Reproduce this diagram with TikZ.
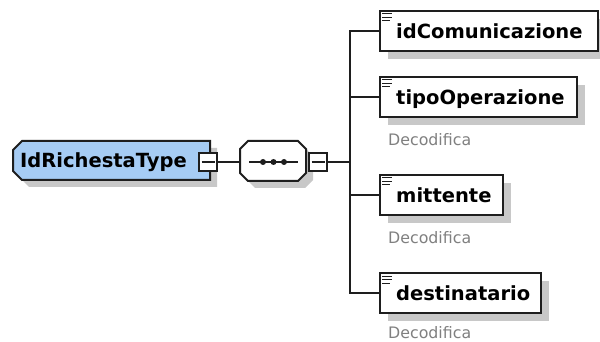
\documentclass[tikz,border=0pt]{standalone}
\usepackage{fontspec}
\setmainfont{DejaVu Sans}
\usetikzlibrary{calc,shadows}
\definecolor{lin}{RGB}{30,30,30}
\definecolor{typeblue}{RGB}{166,204,244}
\definecolor{shad}{RGB}{200,200,200}
\definecolor{anno}{RGB}{128,128,128}
\newcommand\elicon[1]{%
  \draw[lin, line width=1pt] ($(#1.north west)+(3,4)$) -- ++(10,0);
  \draw[lin, line width=1pt] ($(#1.north west)+(3,7.5)$) -- ++(10,0);
  \draw[lin, line width=1pt] ($(#1.north west)+(3,11)$) -- ++(8,0);}
\begin{document}
\begin{tikzpicture}[x=1pt,y=-1pt,
  conn/.style={draw=lin, line width=2pt},
  elbox/.style={draw=lin, line width=2pt, fill=white, inner sep=0pt, minimum height=40pt,
     drop shadow={shadow xshift=8pt, shadow yshift=-8pt, fill=shad, opacity=1}},
  eltext/.style={font=\bfseries\fontsize{19.5}{20}\selectfont, text=black, inner sep=0pt, anchor=base west},
  annot/.style={font=\fontsize{15.8}{16}\selectfont, text=anno, inner sep=0pt, anchor=base west},
  minusbox/.style={draw=lin, line width=1.6pt, fill=white, minimum size=18.4pt, inner sep=0pt},
  anchorbox/.style={inner sep=0pt, draw=none},
]
\useasboundingbox[fill=white] (0,0) rectangle (600,342);

% ---- complex type box ----
\fill[shad, shift={(7,7)}] (22,141) -- (210,141) -- (210,180) -- (22,180) -- (13,171) -- (13,150) -- cycle;
\draw[lin, line width=2pt, fill=typeblue] (22,141) -- (210,141) -- (210,180) -- (22,180) -- (13,171) -- (13,150) -- cycle;
\node[anchorbox, minimum width=197pt, minimum height=39pt] (type) at (111.5,160.5) {};
\node[eltext] (typetext) at (20,167.5) {IdRichestaType};

% ---- sequence compositor ----
\fill[shad, shift={(7,7)}] (248,141) -- (298,141) -- (306,149) -- (306,173) -- (298,181) -- (248,181) -- (240,173) -- (240,149) -- cycle;
\draw[lin, line width=2pt, fill=white] (248,141) -- (298,141) -- (306,149) -- (306,173) -- (298,181) -- (248,181) -- (240,173) -- (240,149) -- cycle;
\node[anchorbox, minimum width=66pt, minimum height=40pt] (seq) at (273,161) {};
\draw[lin, line width=1.6pt] (249,162) -- (298,162);
\fill[lin] (263,162) circle (3) (273.5,162) circle (3) (284,162) circle (3);

% ---- minus boxes ----
\node[minusbox] (m1) at (208,162) {};
\draw[lin, line width=1.6pt] ($(m1.west)+(3.5,0)$) -- ($(m1.east)+(-3.5,0)$);
\node[minusbox] (m2) at (318,162) {};
\draw[lin, line width=1.6pt] ($(m2.west)+(3.5,0)$) -- ($(m2.east)+(-3.5,0)$);

\draw[conn] (m1.east) -- (m1.east -| seq.west);
\coordinate (sp) at (350,162);
\draw[conn] (m2.east) -- (sp);

% ---- element boxes ----
\node[elbox, minimum width=218pt] (idc) at (489,31) {};
\node[elbox, minimum width=197pt] (tip) at (478.5,97) {};
\node[elbox, minimum width=123pt] (mit) at (441.5,195) {};
\node[elbox, minimum width=161pt] (dst) at (460.5,293) {};

\elicon{idc}\elicon{tip}\elicon{mit}\elicon{dst}

\node[eltext] (idct) at (396,38.2) {idComunicazione};
\node[eltext] (tipt) at (396,104.2) {tipoOperazione};
\node[eltext] (mitt) at (396,202) {mittente};
\node[eltext] (dstt) at (396,300) {destinatario};

\node[annot] (tipa) at (388,145.5) {Decodifica};
\node[annot] (mita) at (388,243.5) {Decodifica};
\node[annot] (dsta) at (388,338.5) {Decodifica};

% ---- connectors from spine ----
\draw[conn] (idc.west) -| (sp);
\draw[conn] (tip.west) -| (sp);
\draw[conn] (mit.west) -| (sp);
\draw[conn] (dst.west) -| (sp);
\end{tikzpicture}
\end{document}
